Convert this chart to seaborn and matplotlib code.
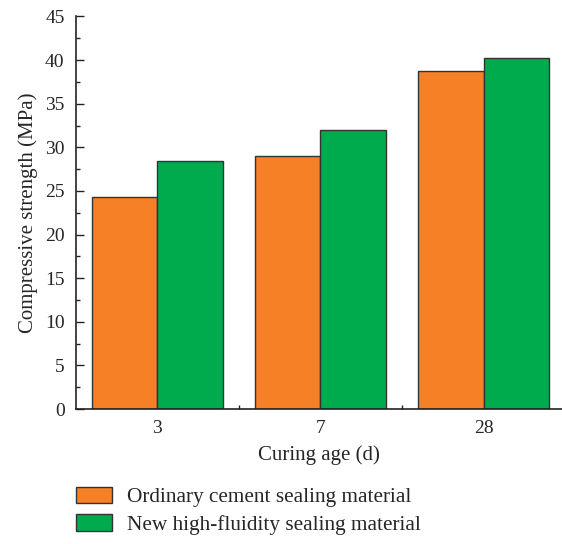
import matplotlib
matplotlib.use("Agg")
import matplotlib.pyplot as plt
import seaborn as sns
import pandas as pd
from matplotlib.ticker import MultipleLocator, FixedLocator
from matplotlib.patches import Patch

ages = ["3", "7", "28"]
ordinary = [24.3, 29.0, 38.8]
high_fluidity = [28.45, 32.0, 40.2]
series_names = ["Ordinary cement sealing material", "New high-fluidity sealing material"]
colors = ["#F58025", "#00AB4E"]

df = pd.DataFrame({
    "age": ages * 2,
    "strength": ordinary + high_fluidity,
    "material": [series_names[0]] * 3 + [series_names[1]] * 3,
})

sns.set_theme(style="white")
plt.rcParams["font.family"] = ["Liberation Serif", "DejaVu Serif"]

fig = plt.figure(figsize=(5.62, 5.44), dpi=100)
ax = fig.add_axes([75.7 / 562, 1 - 409 / 544, 1 - 75.7 / 562, (409 - 16.5) / 544])

sns.barplot(data=df, x="age", y="strength", hue="material", order=ages,
            hue_order=series_names, palette=colors, width=0.8,
            edgecolor="#333333", linewidth=1.0, saturation=1, ax=ax, legend=False)

ax.set_xlim(-0.5, 2.48)
ax.set_ylim(0, 45)
ax.yaxis.set_major_locator(MultipleLocator(5))
ax.yaxis.set_minor_locator(MultipleLocator(2.5))
ax.xaxis.set_minor_locator(FixedLocator([0.5, 1.5, 2.5]))

for side in ["top", "right"]:
    ax.spines[side].set_visible(False)
for side in ["left", "bottom"]:
    ax.spines[side].set_color("#222222")
    ax.spines[side].set_linewidth(1.2)

ax.tick_params(axis="y", which="major", direction="in", length=5.5, width=1.0,
               color="#222222", labelsize=14, pad=8, left=True)
ax.tick_params(axis="y", which="minor", direction="in", length=3, width=1.0,
               color="#222222", left=True)
ax.tick_params(axis="x", which="major", length=0, labelsize=14, pad=8)
ax.tick_params(axis="x", which="minor", direction="in", length=3, width=1.0,
               color="#222222", bottom=True)

ax.set_xlabel("Curing age (d)", fontsize=15, labelpad=6)
ax.set_ylabel("Compressive strength (MPa)", fontsize=15, labelpad=5)

handles = [Patch(facecolor=c, edgecolor="#333333", linewidth=1.0) for c in colors]
fig.legend(handles, series_names, loc="upper left",
           bbox_to_anchor=(67 / 562, 1 - 478 / 544), frameon=False,
           fontsize=15.3, handlelength=1.7, handleheight=0.8, handletextpad=0.72,
           labelspacing=0.35, borderaxespad=0)

fig.savefig("out.png", dpi=100)
